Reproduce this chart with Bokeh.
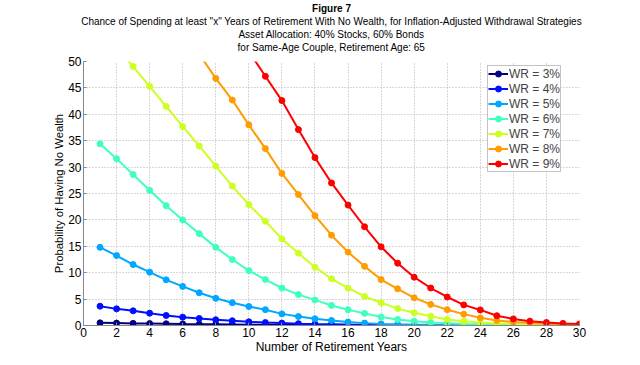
from bokeh.plotting import figure
from bokeh.models import Title, Legend, LegendItem, FixedTicker, Range1d
from bokeh.embed import file_html
from bokeh.resources import INLINE

years = list(range(1, 31))

wr3 = [0.5, 0.45, 0.4, 0.36, 0.32, 0.28, 0.25, 0.22, 0.19, 0.16, 0.14, 0.12, 0.1, 0.08, 0.07,
       0.06, 0.05, 0.04, 0.03, 0.03, 0.02, 0.02, 0.01, 0.01, 0.01, 0.01, 0.0, 0.0, 0.0, 0.0]
wr4 = [3.66, 3.15, 2.78, 2.33, 1.9, 1.58, 1.33, 1.08, 0.89, 0.7, 0.55, 0.45, 0.35, 0.28, 0.22,
       0.17, 0.13, 0.1, 0.08, 0.06, 0.05, 0.04, 0.03, 0.02, 0.02, 0.01, 0.01, 0.01, 0.01, 0.0]
wr5 = [14.8, 13.25, 11.55, 10.1, 8.65, 7.4, 6.2, 5.15, 4.3, 3.6, 3.0, 2.2, 1.7, 1.27, 0.95,
       0.65, 0.45, 0.3, 0.22, 0.16, 0.12, 0.09, 0.07, 0.05, 0.04, 0.03, 0.02, 0.02, 0.01, 0.01]
wr6 = [34.4, 31.6, 28.6, 25.6, 22.7, 20.0, 17.4, 14.8, 12.5, 10.4, 8.7, 7.1, 5.85, 4.85, 3.8,
       3.0, 2.3, 1.6, 1.15, 0.82, 0.57, 0.42, 0.3, 0.22, 0.16, 0.12, 0.09, 0.07, 0.05, 0.04]
wr7 = [56.6, 52.8, 49.05, 45.3, 41.5, 37.7, 34.0, 30.2, 26.4, 22.9, 19.75, 16.4, 13.7, 11.05, 8.85,
       7.1, 5.5, 4.3, 3.2, 2.4, 1.75, 1.15, 0.8, 0.55, 0.4, 0.3, 0.22, 0.16, 0.12, 0.1]
wr8 = [72.5, 69.5, 66.5, 63.0, 59.5, 55.5, 51.4, 46.8, 42.7, 38.0, 33.5, 28.8, 24.8, 20.8, 17.1,
       13.9, 11.2, 8.7, 6.95, 5.25, 4.0, 3.0, 2.15, 1.45, 0.95, 0.65, 0.45, 0.35, 0.25, 0.2]
wr9 = [82.0, 79.5, 77.0, 74.0, 71.0, 67.5, 64.0, 60.0, 56.0, 51.9, 47.2, 42.6, 37.1, 31.8, 27.0,
       22.8, 18.7, 14.9, 11.8, 9.15, 7.1, 5.4, 3.9, 2.95, 1.85, 1.25, 0.82, 0.57, 0.4, 0.3]

series = [wr3, wr4, wr5, wr6, wr7, wr8, wr9]
labels = ["WR = 3%", "WR = 4%", "WR = 5%", "WR = 6%", "WR = 7%", "WR = 8%", "WR = 9%"]
colors = ["#000080", "#0010ff", "#00a8ff", "#40ffc0", "#ccff22", "#ff9c00", "#ff0000"]

title_lines = ["Figure 7",
               "Chance of Spending at least \"x\" Years of Retirement With No Wealth, for Inflation-Adjusted Withdrawal Strategies",
               "Asset Allocation: 40% Stocks, 60% Bonds",
               "for Same-Age Couple, Retirement Age: 65"]
x_ticks = list(range(0, 31, 2))
y_ticks = list(range(0, 51, 5))

FONT = "Liberation Sans"

p = figure(title=None, output_backend="svg", toolbar_location=None,
           frame_width=496, frame_height=264,
           min_border_left=83, min_border_right=61, min_border_top=61, min_border_bottom=40,
           x_range=Range1d(0, 30), y_range=Range1d(0, 50),
           background_fill_color="white", border_fill_color="white")
p.outline_line_color = None

# spacer between the title block and the plot frame
p.add_layout(Title(text=" ", text_font_size="1px", standoff=6), "above")
# titles: last added goes outermost
n = len(title_lines)
for i, t in enumerate(reversed(title_lines)):
    idx = n - 1 - i
    p.add_layout(Title(text=t, align="center", text_font=FONT,
                       text_font_size="10px", text_color="black",
                       text_font_style="bold" if idx == 0 else "normal",
                       standoff=0, offset=0), "above")

items = []
for s, lab, c in zip(series, labels, colors):
    r1 = p.line(years, s, line_color=c, line_width=2)
    r2 = p.scatter(years, s, marker="circle", size=6, fill_color=c, line_color=c)
    items.append(LegendItem(label=lab, renderers=[r1, r2]))

legend = Legend(items=items, location=(404, 153), orientation="vertical",
                label_text_font=FONT, label_text_font_size="12px",
                label_height=15, glyph_height=15, glyph_width=20,
                label_standoff=1, spacing=0, padding=0, margin=0,
                border_line_color="#888888", border_line_width=1,
                background_fill_color="white", background_fill_alpha=1.0)
p.add_layout(legend, "center")

for ax in (p.xaxis[0], p.yaxis[0]):
    ax.axis_line_color = "#888888"
    ax.major_tick_line_color = "#888888"
    ax.major_tick_in = 3
    ax.major_tick_out = 0
    ax.minor_tick_line_color = None
    ax.major_label_text_font = FONT
    ax.major_label_text_font_size = "12px"
    ax.major_label_text_color = "black"
    ax.axis_label_text_font = FONT
    ax.axis_label_text_font_size = "12px"
    ax.axis_label_text_font_style = "normal"
    ax.axis_label_text_color = "black"

p.xaxis.ticker = FixedTicker(ticks=x_ticks)
p.yaxis.ticker = FixedTicker(ticks=y_ticks)
p.xaxis.axis_label = "Number of Retirement Years"
p.yaxis.axis_label = "Probability of Having No Wealth"
p.yaxis.axis_label_text_font_size = "11.3px"
p.xaxis.major_label_standoff = 2
p.xaxis.axis_label_standoff = 0
p.yaxis.major_label_standoff = 2
p.yaxis.axis_label_standoff = 0

for g in (p.xgrid[0], p.ygrid[0]):
    g.grid_line_color = "#b0b0b0"
    g.grid_line_dash = "1 2"
    g.grid_line_width = 1

open("out.html", "w").write(file_html(p, INLINE))
